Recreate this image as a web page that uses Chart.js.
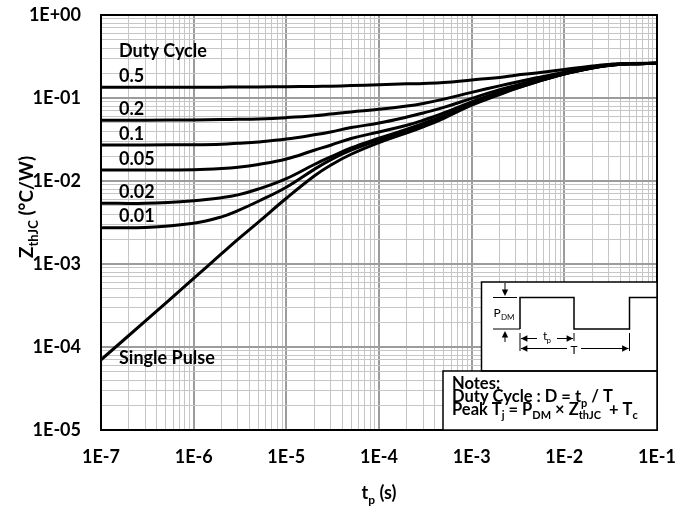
<!DOCTYPE html>
<html>
<head>
<meta charset="utf-8">
<title>Transient thermal impedance</title>
<script src="https://cdn.jsdelivr.net/npm/chart.js@4.4.1/dist/chart.umd.min.js"></script>
<style>
  html, body { margin: 0; padding: 0; background: #fff; }
  #wrap { width: 694px; height: 513px; }
</style>
</head>
<body>
<div id="wrap"><canvas id="zthChart" width="694" height="513"></canvas></div>
<script>
// pulse width tp (s), shared by every curve
const pulseWidths = [1e-7, 3e-7, 1e-6, 2e-6, 3e-6, 5e-6, 1e-5, 2e-5, 3e-5, 5e-5, 1e-4, 2e-4,
  3e-4, 5e-4, 1e-3, 2e-3, 3e-3, 5e-3, 1e-2, 2e-2, 3e-2, 5e-2, 1e-1];

// ZthJC (°C/W) per duty cycle
const zDuty050 = [0.135, 0.135, 0.135, 0.135, 0.136, 0.136, 0.137, 0.138, 0.139, 0.141, 0.144, 0.148,
  0.150, 0.154, 0.165, 0.177, 0.188, 0.200, 0.220, 0.243, 0.254, 0.260, 0.263];
const zDuty020 = [0.054, 0.054, 0.0545, 0.055, 0.0553, 0.056, 0.058, 0.061, 0.064, 0.068, 0.073, 0.080,
  0.086, 0.097, 0.117, 0.140, 0.155, 0.175, 0.205, 0.237, 0.250, 0.258, 0.262];
const zDuty010 = [0.0272, 0.0272, 0.0274, 0.0278, 0.0285, 0.0296, 0.032, 0.036, 0.039, 0.044, 0.050, 0.059,
  0.066, 0.077, 0.099, 0.126, 0.142, 0.165, 0.200, 0.234, 0.249, 0.258, 0.262];
const zDuty005 = [0.0136, 0.0136, 0.0137, 0.0141, 0.0146, 0.0158, 0.0184, 0.0235, 0.027, 0.0325, 0.039, 0.047,
  0.054, 0.066, 0.090, 0.118, 0.136, 0.160, 0.197, 0.232, 0.248, 0.258, 0.262];
const zDuty002 = [0.0054, 0.0054, 0.0058, 0.0063, 0.0068, 0.0080, 0.0107, 0.0158, 0.0195, 0.025, 0.0327, 0.042,
  0.0495, 0.061, 0.086, 0.114, 0.133, 0.158, 0.196, 0.231, 0.248, 0.258, 0.262];
const zDuty001 = [0.00274, 0.00276, 0.0031, 0.0037, 0.0044, 0.0057, 0.0084, 0.0138, 0.018, 0.0235, 0.031, 0.040,
  0.047, 0.059, 0.084, 0.112, 0.131, 0.157, 0.195, 0.230, 0.247, 0.258, 0.262];
const zSinglePulse = [7.0e-5, 2.05e-4, 6.7e-4, 1.33e-3, 1.98e-3, 3.2e-3, 0.0062, 0.0115, 0.0155, 0.021, 0.029, 0.038,
  0.045, 0.057, 0.082, 0.110, 0.130, 0.156, 0.194, 0.230, 0.247, 0.258, 0.262];

const curveNames = ["0.5", "0.2", "0.1", "0.05", "0.02", "0.01", "Single Pulse"];
const curveSeries = [zDuty050, zDuty020, zDuty010, zDuty005, zDuty002, zDuty001, zSinglePulse];

const xTickLabels = ["1E-7", "1E-6", "1E-5", "1E-4", "1E-3", "1E-2", "1E-1"];
const yTickLabels = ["1E-05", "1E-04", "1E-03", "1E-02", "1E-01", "1E+00"];

const FONT = "Lato, 'Open Sans', sans-serif";

// decade ticks plus 2..9 minors between them
function logTicks(labels) {
  const decades = labels.map(Number);
  const out = [];
  decades.forEach((d, i) => {
    out.push({ value: d });
    if (i < decades.length - 1) {
      for (let m = 2; m <= 9; m++) out.push({ value: d * m });
    }
  });
  return out;
}

function isDecade(v) {
  const l = Math.log10(v);
  return Math.abs(l - Math.round(l)) < 1e-9;
}

function labelFor(labels, value) {
  const hit = labels.find((l) => Math.abs(Number(l) / value - 1) < 1e-9);
  return hit || "";
}

// draws a run of text pieces, some of them lowered as subscripts
function drawRich(ctx, parts, x, y, size, align) {
  const subSize = Math.round(size * 0.68);
  let width = 0;
  parts.forEach((p) => {
    ctx.font = `bold ${p.sub ? subSize : size}px ${FONT}`;
    width += ctx.measureText(p.t).width;
  });
  let cx = align === "center" ? x - width / 2 : x;
  parts.forEach((p) => {
    ctx.font = `bold ${p.sub ? subSize : size}px ${FONT}`;
    ctx.fillText(p.t, cx, p.sub ? y + size * 0.28 : y);
    cx += ctx.measureText(p.t).width;
  });
}

function arrowHead(ctx, x, y, dir) {
  // dir: "l", "r", "u", "d"
  const s = 4;
  ctx.beginPath();
  if (dir === "r") { ctx.moveTo(x, y); ctx.lineTo(x - s * 1.6, y - s * 0.8); ctx.lineTo(x - s * 1.6, y + s * 0.8); }
  if (dir === "l") { ctx.moveTo(x, y); ctx.lineTo(x + s * 1.6, y - s * 0.8); ctx.lineTo(x + s * 1.6, y + s * 0.8); }
  if (dir === "d") { ctx.moveTo(x, y); ctx.lineTo(x - s * 0.8, y - s * 1.6); ctx.lineTo(x + s * 0.8, y - s * 1.6); }
  if (dir === "u") { ctx.moveTo(x, y); ctx.lineTo(x - s * 0.8, y + s * 1.6); ctx.lineTo(x + s * 0.8, y + s * 1.6); }
  ctx.closePath();
  ctx.fill();
}

const decorPlugin = {
  id: "decor",
  afterDatasetsDraw(chart) {
    const { ctx, chartArea: a, scales } = chart;
    const ys = scales.y;
    ctx.save();

    // frame
    ctx.strokeStyle = "#000";
    ctx.lineWidth = 2;
    ctx.strokeRect(a.left, a.top, a.right - a.left, a.bottom - a.top);

    ctx.fillStyle = "#000";
    ctx.textBaseline = "middle";
    ctx.textAlign = "left";
    ctx.font = `bold 18px ${FONT}`;

    // curve labels sit just above the flat start of each duty-cycle curve
    const lx = a.left + 18;
    curveSeries.slice(0, 6).forEach((s, i) => {
      ctx.fillText(curveNames[i], lx, ys.getPixelForValue(s[0]) - 11);
    });
    ctx.fillText("Duty Cycle", lx, ys.getPixelForValue(zDuty050[0]) - 36);
    ctx.fillText(curveNames[6], lx, ys.getPixelForValue(zSinglePulse[0]) - 2);

    // pulse diagram inset
    const r = a.right;
    const dx = 481.5, dTop = 282, dBot = 371;
    ctx.fillStyle = "#fff";
    ctx.fillRect(dx, dTop, r - dx, dBot - dTop);
    ctx.fillRect(443, dBot, r - 443, a.bottom - dBot);
    ctx.strokeStyle = "#000";
    ctx.lineWidth = 1.5;
    ctx.strokeRect(dx, dTop, r - dx, dBot - dTop);
    ctx.strokeRect(443, dBot, r - 443, a.bottom - dBot);

    const hi = 297.5, lo = 329;
    ctx.lineWidth = 1.5;
    ctx.beginPath();
    ctx.moveTo(520, lo); ctx.lineTo(520, hi); ctx.lineTo(574, hi); ctx.lineTo(574, lo);
    ctx.lineTo(629.5, lo); ctx.lineTo(629.5, hi); ctx.lineTo(r, hi);
    ctx.stroke();

    ctx.lineWidth = 1;
    ctx.beginPath();
    ctx.moveTo(493, hi); ctx.lineTo(517, hi);
    ctx.moveTo(493, lo); ctx.lineTo(520, lo);
    ctx.moveTo(505, 283); ctx.lineTo(505, 293);
    ctx.moveTo(505, 334); ctx.lineTo(505, 342);
    ctx.moveTo(520, 333); ctx.lineTo(520, 351);
    ctx.moveTo(574, 333); ctx.lineTo(574, 341);
    ctx.moveTo(629.5, 333); ctx.lineTo(629.5, 351);
    ctx.moveTo(521, 338.5); ctx.lineTo(537, 338.5);
    ctx.moveTo(557, 338.5); ctx.lineTo(573, 338.5);
    ctx.moveTo(521, 348.5); ctx.lineTo(567, 348.5);
    ctx.moveTo(581, 348.5); ctx.lineTo(628.5, 348.5);
    ctx.stroke();
    ctx.fillStyle = "#000";
    arrowHead(ctx, 505, 296, "d");
    arrowHead(ctx, 505, 331, "u");
    arrowHead(ctx, 521, 338.5, "l");
    arrowHead(ctx, 573, 338.5, "r");
    arrowHead(ctx, 521, 348.5, "l");
    arrowHead(ctx, 628.5, 348.5, "r");

    ctx.textBaseline = "alphabetic";
    ctx.font = `12px ${FONT}`;
    ctx.fillText("P", 493.5, 317);
    ctx.font = `8px ${FONT}`;
    ctx.fillText("DM", 501, 319.5);
    ctx.font = `12px ${FONT}`;
    ctx.fillText("t", 543, 340);
    ctx.font = `8px ${FONT}`;
    ctx.fillText("p", 546.5, 342.5);
    ctx.font = `12px ${FONT}`;
    ctx.textAlign = "center";
    ctx.fillText("T", 574, 354);
    ctx.textAlign = "left";

    // notes
    ctx.font = `bold 16.5px ${FONT}`;
    ctx.fillText("Notes:", 452, 389);
    drawRich(ctx, [{ t: "Duty Cycle : D = t" }, { t: "p", sub: true }, { t: " / T" }], 452, 402, 16.5);
    drawRich(ctx, [{ t: "Peak T" }, { t: "j", sub: true }, { t: " = P" }, { t: "DM", sub: true },
      { t: " \u00d7 Z" }, { t: "thJC", sub: true }, { t: "  + T" }, { t: "c", sub: true }], 452, 414.5, 16.5);

    // axis titles
    drawRich(ctx, [{ t: "t" }, { t: "p", sub: true }, { t: " (s)" }], (a.left + a.right) / 2, 499, 18, "center");
    ctx.save();
    ctx.translate(33, 207);
    ctx.rotate(-Math.PI / 2);
    drawRich(ctx, [{ t: "Z" }, { t: "thJC", sub: true }, { t: " (\u00b0C/W)" }], 0, 0, 19, "center");
    ctx.restore();

    ctx.restore();
  }
};

const gridColor = (c) => (c.tick && isDecade(c.tick.value) ? "#9c9c9c" : "#c6c6c6");
const gridWidth = (c) => (c.tick && isDecade(c.tick.value) ? 2 : 1);
const tickFont = { family: FONT, size: 18, weight: "bold" };

new Chart(document.getElementById("zthChart"), {
  type: "line",
  data: {
    datasets: curveSeries.map((s, i) => ({
      label: curveNames[i],
      data: pulseWidths.map((t, k) => ({ x: t, y: s[k] })),
      borderColor: "#000",
      borderWidth: 3,
      pointRadius: 0,
      fill: false,
      tension: 0.4
    }))
  },
  options: {
    responsive: false,
    animation: false,
    layout: { padding: { top: 15, right: 37, left: 0, bottom: 0 } },
    plugins: { legend: { display: false }, tooltip: { enabled: false } },
    scales: {
      x: {
        type: "logarithmic",
        min: 1e-7,
        max: 1e-1,
        afterBuildTicks: (s) => { s.ticks = logTicks(xTickLabels); },
        afterFit: (s) => { s.height = 83; },
        border: { display: false },
        grid: { color: gridColor, lineWidth: gridWidth, drawTicks: false },
        ticks: {
          autoSkip: false, maxRotation: 0, padding: 16, color: "#000", font: tickFont,
          callback: (v) => labelFor(xTickLabels, v)
        }
      },
      y: {
        type: "logarithmic",
        min: 1e-5,
        max: 1,
        afterBuildTicks: (s) => { s.ticks = logTicks(yTickLabels); },
        afterFit: (s) => { s.width = 101; },
        border: { display: false },
        // invisible tick marks keep the labels clear of the frame
        grid: { color: gridColor, lineWidth: gridWidth, drawTicks: true, tickLength: 20, tickColor: "rgba(0,0,0,0)" },
        ticks: {
          autoSkip: false, padding: 0, color: "#000", font: tickFont,
          callback: (v) => labelFor(yTickLabels, v)
        }
      }
    }
  },
  plugins: [decorPlugin]
});
</script>
</body>
</html>
